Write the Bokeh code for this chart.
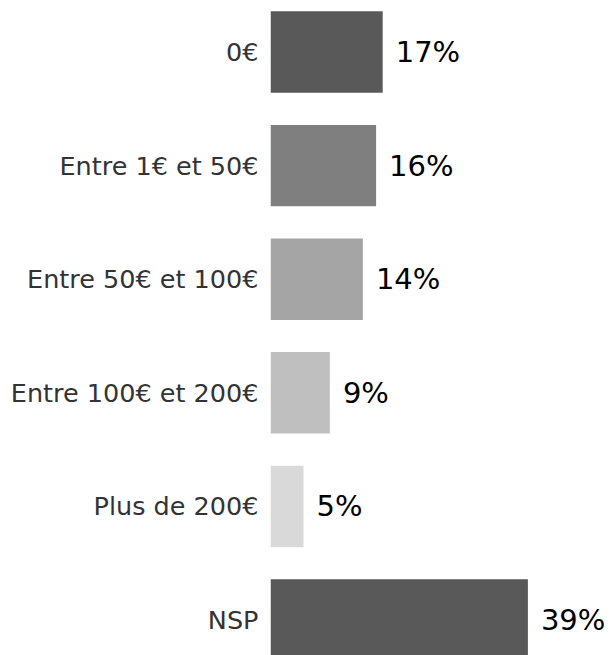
from bokeh.plotting import figure
from bokeh.models import ColumnDataSource, Range1d, FixedTicker
from bokeh.core.properties import value
from bokeh.embed import file_html
from bokeh.resources import INLINE

categories = ["0€", "Entre 1€ et 50€", "Entre 50€ et 100€", "Entre 100€ et 200€", "Plus de 200€", "NSP"]
values = [17, 16, 14, 9, 5, 39]
colors = ["#595959", "#7f7f7f", "#a5a5a5", "#bfbfbf", "#d9d9d9", "#595959"]
value_labels = ["17%", "16%", "14%", "9%", "5%", "39%"]

pos = list(range(len(categories)))
src = ColumnDataSource(dict(y=pos, v=values, c=colors, lab=value_labels))

p = figure(width=605, height=655, output_backend="svg", toolbar_location=None,
           x_range=Range1d(0, 50.76), y_range=Range1d(5.312, -0.383),
           min_border_left=270, min_border_right=0, min_border_top=8, min_border_bottom=0)
p.outline_line_color = None
p.grid.visible = False
p.xaxis.visible = False

p.hbar(y="y", right="v", left=0, height=0.717, fill_color="c", line_color=None, source=src)
p.text(x="v", y="y", text="lab", x_offset=13, text_align="left", text_baseline="middle",
       text_font=value("DejaVu Sans"), text_font_size="29px", text_color="#000000", source=src)

ya = p.yaxis[0]
ya.ticker = FixedTicker(ticks=pos)
ya.major_label_overrides = {i: c for i, c in zip(pos, categories)}
ya.axis_line_color = None
ya.major_tick_line_color = None
ya.minor_tick_line_color = None
ya.major_tick_out = 0
ya.major_label_standoff = 12
ya.major_label_text_font = "DejaVu Sans"
ya.major_label_text_font_size = "25.5px"
ya.major_label_text_color = "#333333"

open("out.html", "w").write(file_html(p, INLINE))
